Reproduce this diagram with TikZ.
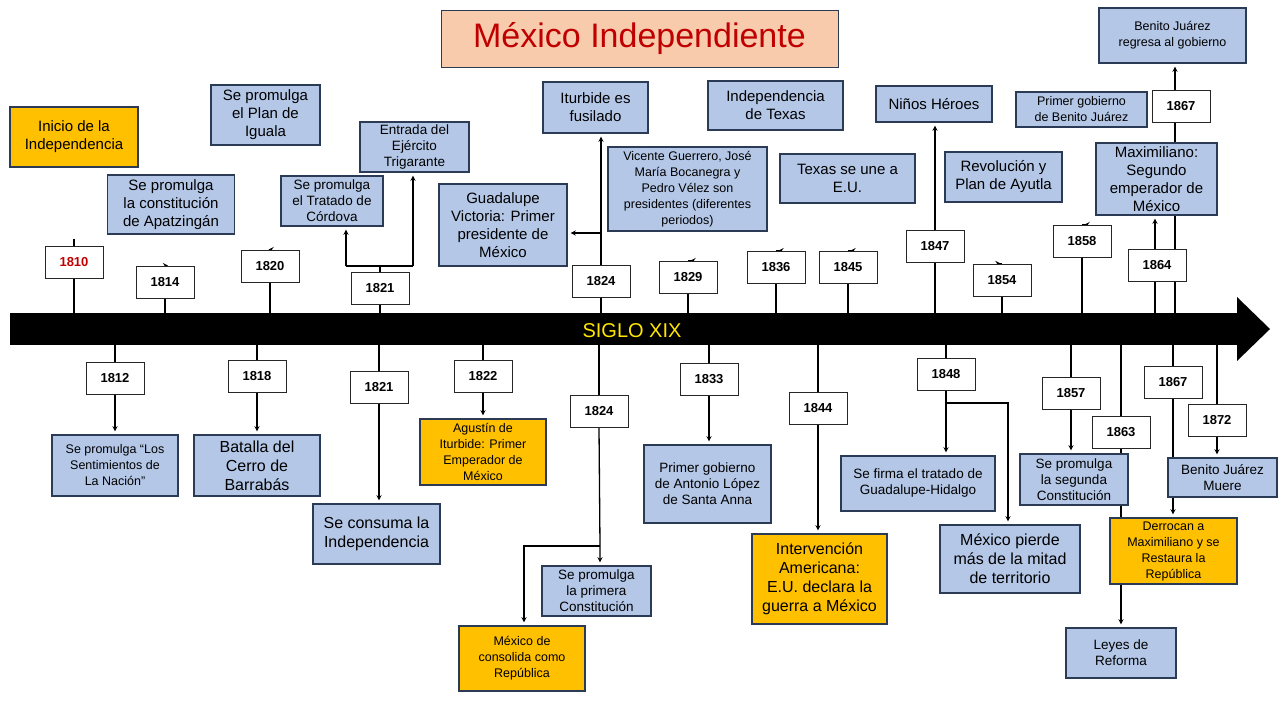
\documentclass[tikz,border=0pt]{standalone}
\usepackage{fontspec}
\setmainfont{Liberation Sans}
\usetikzlibrary{backgrounds}
\definecolor{azul}{HTML}{B4C7E7}
\definecolor{naranja}{HTML}{FFC000}
\definecolor{borde}{HTML}{2B3A55}
\definecolor{salmon}{HTML}{F8CBAD}
\definecolor{rojo}{HTML}{C00000}
\definecolor{amarillo}{HTML}{FFE600}
\tikzset{
  evento/.style={draw=borde,line width=1.2pt,fill=azul,align=center,inner sep=1pt,font=\fontsize{15}{18}\selectfont},
  hito/.style={evento,fill=naranja},
  chico/.style={font=\fontsize{12.5}{16}\selectfont},
  anio/.style={draw=black!85,line width=1pt,fill=white,minimum width=58pt,minimum height=32pt,inner sep=0pt,font=\fontsize{13}{15}\selectfont\bfseries},
  linea/.style={line width=1.3pt},
  flecha/.style={linea,->,>=stealth,shorten >=3pt}
}
\begin{document}
\begin{tikzpicture}[x=1pt,y=-1pt]
        \useasboundingbox (0,0) rectangle (1280,720);
        % Titulo
        \node[draw=borde,line width=1pt,fill=salmon,minimum width=397pt,minimum height=57pt,text=rojo,font=\fontsize{34}{38}\selectfont](titulo) at (639.5,38.5) {México Independiente};
        % Barra del siglo
        \coordinate (bt) at (0,313);
        \coordinate (bb) at (0,345);
        \fill[black](10,313)rectangle(1240,345);
        \fill[black](1237,297)--(1270,329)--(1237,361)--cycle;
        \node[text=amarillo,font=\fontsize{20}{24}\selectfont](siglo) at (632,331) {SIGLO XIX};
        % Eventos arriba
        \node[hito,minimum width=128pt,minimum height=60pt](e1810) at (74,137) {Inicio de la\\Independencia};
        \node[evento,minimum width=127pt,minimum height=59pt](e1814) at (171,204.5) {Se promulga\\la constitución\\de Apatzingán};
        \node[evento,minimum width=109pt,minimum height=60pt](e1820) at (265.5,115) {Se promulga\\el Plan de\\Iguala};
        \node[evento,chico,font=\fontsize{13.5}{16}\selectfont,minimum width=102pt,minimum height=50pt](etrat) at (332,201) {Se promulga\\el Tratado de\\Córdova};
        \node[evento,chico,font=\fontsize{13.5}{16}\selectfont,minimum width=109pt,minimum height=50pt](eentr) at (414.5,147) {Entrada del\\Ejército\\Trigarante};
        \node[evento,minimum width=128pt,minimum height=82pt](evic) at (503,225) {Guadalupe\\Victoria: Primer\\presidente de\\México};
        \node[evento,minimum width=105pt,minimum height=51pt](eitur) at (595.5,107.5) {Iturbide es\\fusilado};
        \node[evento,chico,minimum width=159pt,minimum height=84pt](e1829) at (687.5,189) {Vicente Guerrero, José\\María Bocanegra y\\Pedro Vélez son\\presidentes (diferentes\\periodos)};
        \node[evento,minimum width=135pt,minimum height=49pt](e1836) at (775.5,105.5) {Independencia\\de Texas};
        \node[evento,minimum width=135pt,minimum height=49pt](e1845) at (847.5,178.5) {Texas se une a\\E.U.};
        \node[evento,minimum width=116pt,minimum height=36pt](e1847) at (934,104) {Niños Héroes};
        \node[evento,minimum width=117pt,minimum height=50pt](e1854) at (1003.5,177) {Revolución y\\Plan de Ayutla};
        \node[evento,chico,minimum width=131pt,minimum height=35pt](e1858) at (1081.5,109.5) {Primer gobierno\\de Benito Juárez};
        \node[evento,minimum width=121pt,minimum height=72pt](e1864) at (1156.5,179) {Maximiliano:\\Segundo\\emperador de\\México};
        \node[evento,chico,minimum width=147pt,minimum height=55pt](e1867t) at (1172.5,35.5) {Benito Juárez\\regresa al gobierno};
        % Anios arriba
        \node[anio,text=rojo](a1810) at (74,262) {1810};
        \node[anio](a1814) at (165,282) {1814};
        \node[anio](a1820) at (270,266) {1820};
        \node[anio](a1821t) at (380,288) {1821};
        \node[anio](a1824t) at (601,281) {1824};
        \node[anio](a1829) at (688,277) {1829};
        \node[anio](a1836) at (776,267) {1836};
        \node[anio](a1845) at (848,267) {1845};
        \node[anio](a1847) at (935,246) {1847};
        \node[anio](a1854) at (1002,280) {1854};
        \node[anio](a1858) at (1082,241) {1858};
        \node[anio](a1864) at (1157,265) {1864};
        \node[anio](a1867t) at (1181,106) {1867};
        % Eventos abajo
        \node[evento,chico,minimum width=126pt,minimum height=61pt](e1812) at (115,465.5) {Se promulga “Los\\Sentimientos de\\La Nación”};
        \node[evento,font=\fontsize{16}{19}\selectfont,minimum width=126pt,minimum height=61pt](e1818) at (257,465.5) {Batalla del\\Cerro de\\Barrabás};
        \node[evento,font=\fontsize{16}{19}\selectfont,minimum width=127pt,minimum height=60pt](e1821b) at (376.5,534) {Se consuma la\\Independencia};
        \node[hito,chico,minimum width=126pt,minimum height=66pt](e1822) at (483,452) {Agustín de\\Iturbide: Primer\\Emperador de\\México};
        \node[evento,chico,font=\fontsize{13.5}{16}\selectfont,minimum width=109pt,minimum height=50pt](econs) at (596.5,591) {Se promulga\\la primera\\Constitución};
        \node[hito,chico,minimum width=126pt,minimum height=65pt](erep) at (522,658.5) {México de\\consolida como\\República};
        \node[evento,chico,font=\fontsize{13.5}{16}\selectfont,minimum width=127pt,minimum height=78pt](e1833) at (707.5,484) {Primer gobierno\\de Antonio López\\de Santa Anna};
        \node[hito,font=\fontsize{16}{19}\selectfont,minimum width=135pt,minimum height=90pt](e1844) at (819.5,579) {Intervención\\Americana:\\E.U. declara la\\guerra a México};
        \node[evento,chico,font=\fontsize{13.5}{16}\selectfont,minimum width=154pt,minimum height=55pt](e1848) at (918,483.5) {Se firma el tratado de\\Guadalupe-Hidalgo};
        \node[evento,font=\fontsize{16}{19}\selectfont,minimum width=140pt,minimum height=68pt](eterr) at (1010,559) {México pierde\\más de la mitad\\de territorio};
        \node[evento,chico,font=\fontsize{13.5}{16}\selectfont,minimum width=108pt,minimum height=51pt](e1857) at (1074,479.5) {Se promulga\\la segunda\\Constitución};
        \node[hito,chico,minimum width=127pt,minimum height=66pt](e1867b) at (1173.5,551) {Derrocan a\\Maximiliano y se\\Restaura la\\República};
        \node[evento,chico,font=\fontsize{13.5}{16}\selectfont,minimum width=110pt,minimum height=50pt](e1863) at (1121,653) {Leyes de\\Reforma};
        \node[evento,chico,font=\fontsize{13.5}{16}\selectfont,minimum width=109pt,minimum height=39pt](e1872) at (1222.5,477.5) {Benito Juárez\\Muere};
        % Anios abajo
        \node[anio](a1812) at (115,378) {1812};
        \node[anio](a1818) at (257,376) {1818};
        \node[anio](a1821b) at (379,387) {1821};
        \node[anio](a1822) at (483,376) {1822};
        \node[anio](a1824b) at (599,411) {1824};
        \node[anio](a1833) at (709,379) {1833};
        \node[anio](a1844) at (818,408) {1844};
        \node[anio](a1848) at (946,374) {1848};
        \node[anio](a1857) at (1071,393) {1857};
        \node[anio](a1863) at (1121,432) {1863};
        \node[anio](a1867b) at (1173,382) {1867};
        \node[anio](a1872) at (1217,420) {1872};
        % Puntos de quiebre
        \coordinate (k1821) at (380,266);
        \coordinate (k1821a) at (346,266);
        \coordinate (k1821b) at (413,266);
        \coordinate (k1824t) at (601,233);
        \coordinate (k1824b) at (600,546);
        \coordinate (k1824c) at (524,546);
        \coordinate (k1848) at (946,403);
        \coordinate (k1848b) at (1008,403);
        \coordinate (x1864) at (1155,0);
        \coordinate (x1867) at (1175,0);
        \begin{scope}[on background layer]
        % Conectores arriba
        \foreach \n in {1810,1814,1820,1824t,1829,1836,1845,1847,1854,1858}
            \draw[linea](a\n.south)--(a\n.south|-bt);
        \foreach \n/\m in {1810/1810,1814/1814,1820/1820,1829/1829,1836/1836,1845/1845,1854/1854,1858/1858}
            \draw[flecha](a\n.north)--(a\n.north-|e\m.south);
        \draw[flecha](a1847.north)--(a1847.north|-e1847.south);
        \draw[linea](a1821t.south)--(a1821t.south|-bt);
        \draw[linea](a1821t.north)--(k1821);
        \draw[linea](k1821a)--(k1821b);
        \draw[flecha](k1821a)--(k1821a|-etrat.south);
        \draw[flecha](k1821b)--(k1821b|-eentr.south);
        \draw[flecha](a1824t.north)--(a1824t.north|-eitur.south);
        \draw[flecha](k1824t)--(k1824t-|evic.east);
        \draw[linea](x1864|-bt)--(x1864|-a1864.south);
        \draw[flecha](x1864|-a1864.north)--(x1864|-e1864.south);
        \draw[linea](x1867|-bt)--(x1867|-a1867t.south);
        \draw[flecha](x1867|-a1867t.north)--(x1867|-e1867t.south);
        % Conectores abajo
        \foreach \n in {1812,1818,1821b,1822,1824b,1833,1844,1848,1857,1863,1867b,1872}
            \draw[linea](a\n.north)--(a\n.north|-bb);
        \foreach \n in {1812,1818,1821b,1822,1833,1844,1857,1872}
            \draw[flecha](a\n.south)--(a\n.south|-e\n.north);
        \draw[flecha](a1824b.south)--(k1824b)--(k1824b|-econs.north);
        \draw[flecha](k1824b)--(k1824c)--(k1824c|-erep.north);
        \draw[flecha](a1848.south)--(a1848.south|-e1848.north);
        \draw[flecha](k1848)--(k1848b)--(k1848b|-eterr.north);
        \draw[flecha](a1863.south)--(a1863.south|-e1863.north);
        \draw[flecha](a1867b.south)--(a1867b.south|-e1867b.north);
        \end{scope}
    \end{tikzpicture}
\end{document}
